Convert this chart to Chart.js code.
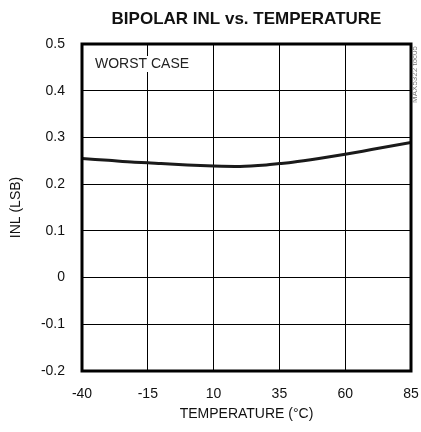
<!DOCTYPE html>
<html>
<head>
<meta charset="utf-8">
<script src="https://cdn.jsdelivr.net/npm/chart.js@4.4.1/dist/chart.umd.min.js"></script>
<style>
  html, body { margin: 0; padding: 0; background: #fff; }
  #wrap { width: 421px; height: 432px; }
</style>
</head>
<body>
<div id="wrap"><canvas id="c" width="421" height="432"></canvas></div>
<script>
// ---- data ----
const temperatures = [-40, -30, -20, -15, -10, 0, 10, 20, 30, 35, 40, 50, 60, 70, 85];
const inlValues    = [0.255, 0.251, 0.247, 0.246, 0.244, 0.241, 0.239, 0.238, 0.241, 0.244, 0.247, 0.255, 0.264, 0.274, 0.289];
const xTickValues  = [-40, -15, 10, 35, 60, 85];
const yTickValues  = [-0.2, -0.1, 0, 0.1, 0.2, 0.3, 0.4, 0.5];
const chartTitle   = 'BIPOLAR INL vs. TEMPERATURE';
const xAxisTitle   = 'TEMPERATURE (°C)';
const yAxisTitle   = 'INL (LSB)';
const noteText     = 'WORST CASE';
const tocText      = 'MAX5322 toc05';

const FONT = "'Liberation Sans Narrow', 'Arial Narrow', 'Liberation Sans', sans-serif";

const decorPlugin = {
  id: 'decor',
  afterDatasetsDraw(chart) {
    const { ctx, chartArea: a } = chart;
    ctx.save();
    // frame
    ctx.strokeStyle = '#000';
    ctx.lineWidth = 3;
    ctx.strokeRect(a.left, a.top, a.right - a.left, a.bottom - a.top);
    // note
    ctx.font = "14px " + FONT;
    ctx.textBaseline = 'middle';
    ctx.textAlign = 'left';
    const w = ctx.measureText(noteText).width;
    ctx.fillStyle = '#fff';
    ctx.fillRect(a.left + 12, a.top + 12, w + 2, 16);
    ctx.fillStyle = '#222';
    ctx.fillText(noteText, a.left + 13, a.top + 20);
    // title
    ctx.font = "bold 17px " + FONT;
    ctx.textAlign = 'center';
    ctx.fillStyle = '#111';
    ctx.fillText(chartTitle, (a.left + a.right) / 2, 19);
    // toc label
    ctx.translate(a.right + 4, a.top + 2);
    ctx.rotate(-Math.PI / 2);
    ctx.font = "8px " + FONT;
    ctx.fillStyle = '#777';
    ctx.textAlign = 'right';
    ctx.textBaseline = 'middle';
    ctx.fillText(tocText, 0, 0);
    ctx.restore();
  }
};

new Chart(document.getElementById('c'), {
  type: 'line',
  data: {
    datasets: [{
      data: temperatures.map((t, i) => ({ x: t, y: inlValues[i] })),
      borderColor: '#1a1a1a',
      borderWidth: 3,
      pointRadius: 0,
      tension: 0.4,
      cubicInterpolationMode: 'monotone',
      fill: false
    }]
  },
  options: {
    responsive: false,
    animation: false,
    devicePixelRatio: 1,
    layout: { padding: { top: 44, right: 10, left: 0, bottom: 0 } },
    plugins: { legend: { display: false }, tooltip: { enabled: false }, title: { display: false } },
    scales: {
      x: {
        type: 'linear',
        min: -40, max: 85,
        afterBuildTicks: s => { s.ticks = xTickValues.map(v => ({ value: v })); },
        afterFit: s => { s.height = 61; s.paddingLeft = 0; s.paddingRight = 0; },
        grid: { color: '#000', lineWidth: 1, drawTicks: false },
        border: { display: false },
        ticks: { color: '#111', font: { family: FONT, size: 14 }, padding: 15, maxRotation: 0, autoSkip: false },
        title: { display: true, text: xAxisTitle, color: '#111', font: { family: FONT, size: 14 }, padding: { top: 0, bottom: 9 } }
      },
      y: {
        type: 'linear',
        min: -0.2, max: 0.5,
        afterBuildTicks: s => { s.ticks = yTickValues.map(v => ({ value: v })); },
        afterFit: s => { s.width = 82; s.paddingTop = 0; s.paddingBottom = 0; },
        grid: { color: '#000', lineWidth: 1, drawTicks: false },
        border: { display: false },
        ticks: {
          color: '#111', font: { family: FONT, size: 14 }, padding: 17, autoSkip: false,
          callback: v => { const r = Math.round(v * 10) / 10; return r === 0 ? '0' : r.toFixed(1); }
        },
        title: { display: true, text: yAxisTitle, color: '#111', font: { family: FONT, size: 14 }, padding: { top: 8, bottom: 0 } }
      }
    }
  },
  plugins: [decorPlugin]
});
</script>
</body>
</html>
